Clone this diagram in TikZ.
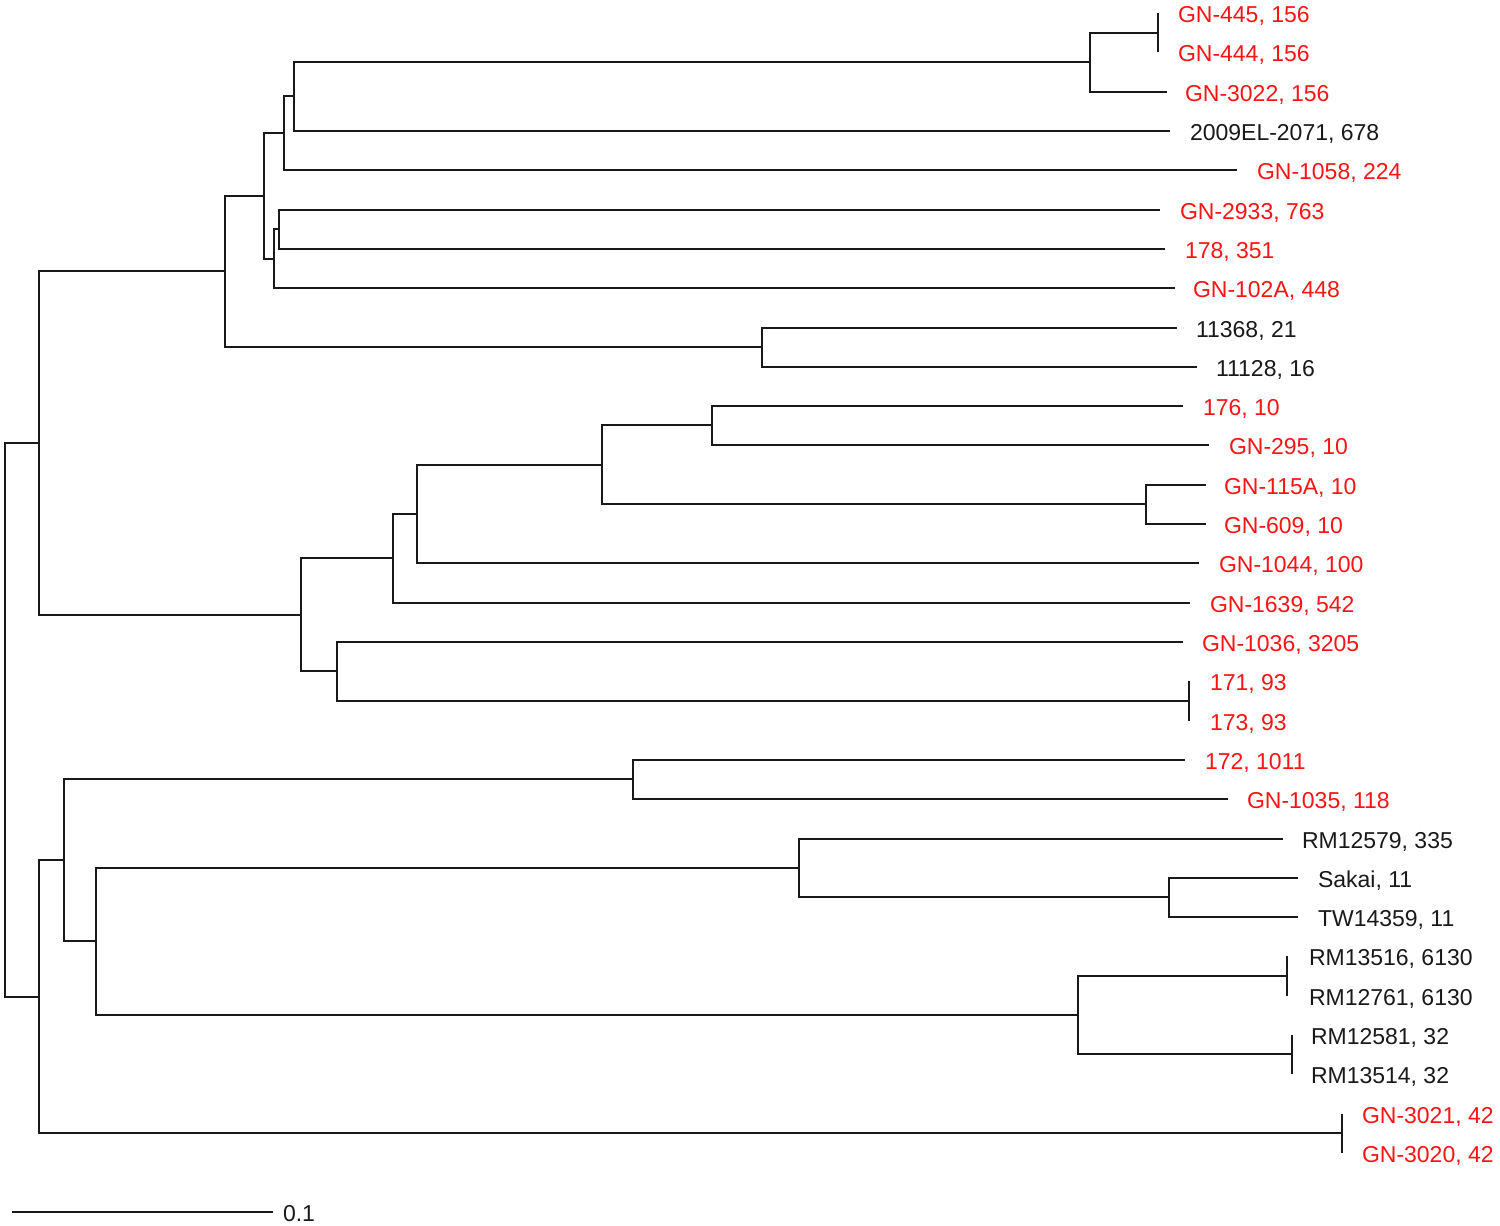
\documentclass[tikz,border=0pt]{standalone}
\usepackage{fontspec}
\setmainfont{Liberation Sans}
\definecolor{labred}{RGB}{250,20,20}
\definecolor{ink}{RGB}{25,25,25}
\begin{document}
\begin{tikzpicture}[x=1pt,y=-1pt,
  branch/.style={draw=ink,line width=2pt,line join=miter},
  lab/.style={anchor=west,inner sep=0pt,outer sep=0pt,text height=16.5pt,text depth=0pt,font=\fontsize{23}{27}\selectfont},
  redlab/.style={lab,text=labred},
  blklab/.style={lab,text=ink}]
\useasboundingbox (0,0) rectangle (1500,1226);

% internal nodes
\coordinate (root) at (5,720);
\coordinate (I) at (39,443);
\coordinate (A) at (225,271);
\coordinate (B) at (264,196);
\coordinate (C) at (284,133);
\coordinate (E) at (294,96);
\coordinate (F) at (1090,62);
\coordinate (H) at (1158,33);
\coordinate (D) at (274,259);
\coordinate (G) at (279,229);
\coordinate (AA) at (762,347);
\coordinate (J) at (301,615);
\coordinate (K) at (393,558);
\coordinate (M) at (417,514);
\coordinate (N) at (602,465);
\coordinate (O) at (712,425);
\coordinate (P) at (1146,504);
\coordinate (L) at (337,671);
\coordinate (LL) at (1189,701);
\coordinate (R) at (39,997);
\coordinate (S) at (64,860);
\coordinate (Q) at (633,779);
\coordinate (T) at (96,941);
\coordinate (U) at (799,868);
\coordinate (W) at (1169,897);
\coordinate (V) at (1078,1015);
\coordinate (X) at (1287,976);
\coordinate (Y) at (1292,1054);
\coordinate (Z) at (1342,1133);

% leaf tips
\coordinate (t0) at (1158,13);
\coordinate (t1) at (1158,52);
\coordinate (t2) at (1167,92);
\coordinate (t3) at (1170,131);
\coordinate (t4) at (1237,170);
\coordinate (t5) at (1160,210);
\coordinate (t6) at (1165,249);
\coordinate (t7) at (1175,288);
\coordinate (t8) at (1177,328);
\coordinate (t9) at (1197,367);
\coordinate (t10) at (1183,406);
\coordinate (t11) at (1209,445);
\coordinate (t12) at (1206,485);
\coordinate (t13) at (1206,524);
\coordinate (t14) at (1199,563);
\coordinate (t15) at (1190,603);
\coordinate (t16) at (1183,642);
\coordinate (t17) at (1189,681);
\coordinate (t18) at (1189,721);
\coordinate (t19) at (1185,760);
\coordinate (t20) at (1228,799);
\coordinate (t21) at (1283,839);
\coordinate (t22) at (1298,878);
\coordinate (t23) at (1298,917);
\coordinate (t24) at (1287,956);
\coordinate (t25) at (1287,996);
\coordinate (t26) at (1292,1035);
\coordinate (t27) at (1292,1074);
\coordinate (t28) at (1342,1114);
\coordinate (t29) at (1342,1153);

% labels
\node[redlab] (l0) at ([xshift=20pt,yshift=-1pt]t0) {GN-445, 156};
\node[redlab] (l1) at ([xshift=20pt,yshift=-1pt]t1) {GN-444, 156};
\node[redlab] (l2) at ([xshift=18pt,yshift=-1pt]t2) {GN-3022, 156};
\node[blklab] (l3) at ([xshift=20pt,yshift=-1pt]t3) {2009EL-2071, 678};
\node[redlab] (l4) at ([xshift=20pt,yshift=-1pt]t4) {GN-1058, 224};
\node[redlab] (l5) at ([xshift=20pt,yshift=-1pt]t5) {GN-2933, 763};
\node[redlab] (l6) at ([xshift=20pt,yshift=-1pt]t6) {178, 351};
\node[redlab] (l7) at ([xshift=18pt,yshift=-1pt]t7) {GN-102A, 448};
\node[blklab] (l8) at ([xshift=19pt,yshift=-1pt]t8) {11368, 21};
\node[blklab] (l9) at ([xshift=19pt,yshift=-1pt]t9) {11128, 16};
\node[redlab] (l10) at ([xshift=20pt,yshift=-1pt]t10) {176, 10};
\node[redlab] (l11) at ([xshift=20pt,yshift=-1pt]t11) {GN-295, 10};
\node[redlab] (l12) at ([xshift=18pt,yshift=-1pt]t12) {GN-115A, 10};
\node[redlab] (l13) at ([xshift=18pt,yshift=-1pt]t13) {GN-609, 10};
\node[redlab] (l14) at ([xshift=20pt,yshift=-1pt]t14) {GN-1044, 100};
\node[redlab] (l15) at ([xshift=20pt,yshift=-1pt]t15) {GN-1639, 542};
\node[redlab] (l16) at ([xshift=19pt,yshift=-1pt]t16) {GN-1036, 3205};
\node[redlab] (l17) at ([xshift=21pt,yshift=-1pt]t17) {171, 93};
\node[redlab] (l18) at ([xshift=21pt,yshift=-1pt]t18) {173, 93};
\node[redlab] (l19) at ([xshift=20pt,yshift=-1pt]t19) {172, 1011};
\node[redlab] (l20) at ([xshift=19pt,yshift=-1pt]t20) {GN-1035, 118};
\node[blklab] (l21) at ([xshift=19pt,yshift=-1pt]t21) {RM12579, 335};
\node[blklab] (l22) at ([xshift=20pt,yshift=-1pt]t22) {Sakai, 11};
\node[blklab] (l23) at ([xshift=20pt,yshift=-1pt]t23) {TW14359, 11};
\node[blklab] (l24) at ([xshift=22pt,yshift=-1pt]t24) {RM13516, 6130};
\node[blklab] (l25) at ([xshift=22pt,yshift=-1pt]t25) {RM12761, 6130};
\node[blklab] (l26) at ([xshift=19pt,yshift=-1pt]t26) {RM12581, 32};
\node[blklab] (l27) at ([xshift=19pt,yshift=-1pt]t27) {RM13514, 32};
\node[redlab] (l28) at ([xshift=20pt,yshift=-1pt]t28) {GN-3021, 42};
\node[redlab] (l29) at ([xshift=20pt,yshift=-1pt]t29) {GN-3020, 42};

% branches
\draw[branch] (root) |- (I);  \draw[branch] (root) |- (R);
\draw[branch] (I) |- (A);     \draw[branch] (I) |- (J);
\draw[branch] (A) |- (B);     \draw[branch] (A) |- (AA);
\draw[branch] (B) |- (C);     \draw[branch] (B) |- (D);
\draw[branch] (C) |- (E);     \draw[branch] (C) |- (t4);
\draw[branch] (E) |- (F);     \draw[branch] (E) |- (t3);
\draw[branch] (F) |- (H);     \draw[branch] (F) |- (t2);
\draw[branch] (H) |- (t0);    \draw[branch] (H) |- (t1);
\draw[branch] (D) |- (G);     \draw[branch] (D) |- (t7);
\draw[branch] (G) |- (t5);    \draw[branch] (G) |- (t6);
\draw[branch] (AA) |- (t8);   \draw[branch] (AA) |- (t9);
\draw[branch] (J) |- (K);     \draw[branch] (J) |- (L);
\draw[branch] (K) |- (M);     \draw[branch] (K) |- (t15);
\draw[branch] (M) |- (N);     \draw[branch] (M) |- (t14);
\draw[branch] (N) |- (O);     \draw[branch] (N) |- (P);
\draw[branch] (O) |- (t10);   \draw[branch] (O) |- (t11);
\draw[branch] (P) |- (t12);   \draw[branch] (P) |- (t13);
\draw[branch] (L) |- (t16);   \draw[branch] (L) |- (LL);
\draw[branch] (LL) |- (t17);  \draw[branch] (LL) |- (t18);
\draw[branch] (R) |- (S);     \draw[branch] (R) |- (Z);
\draw[branch] (S) |- (Q);     \draw[branch] (S) |- (T);
\draw[branch] (Q) |- (t19);   \draw[branch] (Q) |- (t20);
\draw[branch] (T) |- (U);     \draw[branch] (T) |- (V);
\draw[branch] (U) |- (t21);   \draw[branch] (U) |- (W);
\draw[branch] (W) |- (t22);   \draw[branch] (W) |- (t23);
\draw[branch] (V) |- (X);     \draw[branch] (V) |- (Y);
\draw[branch] (X) |- (t24);   \draw[branch] (X) |- (t25);
\draw[branch] (Y) |- (t26);   \draw[branch] (Y) |- (t27);
\draw[branch] (Z) |- (t28);   \draw[branch] (Z) |- (t29);

% scale bar
\coordinate (sb1) at (12,1212);
\coordinate (sb2) at (273,1212);
\draw[branch] (sb1) -- (sb2);
\node[blklab] (sbl) at ([xshift=10pt,yshift=-1pt]sb2) {0.1};
\end{tikzpicture}
\end{document}
